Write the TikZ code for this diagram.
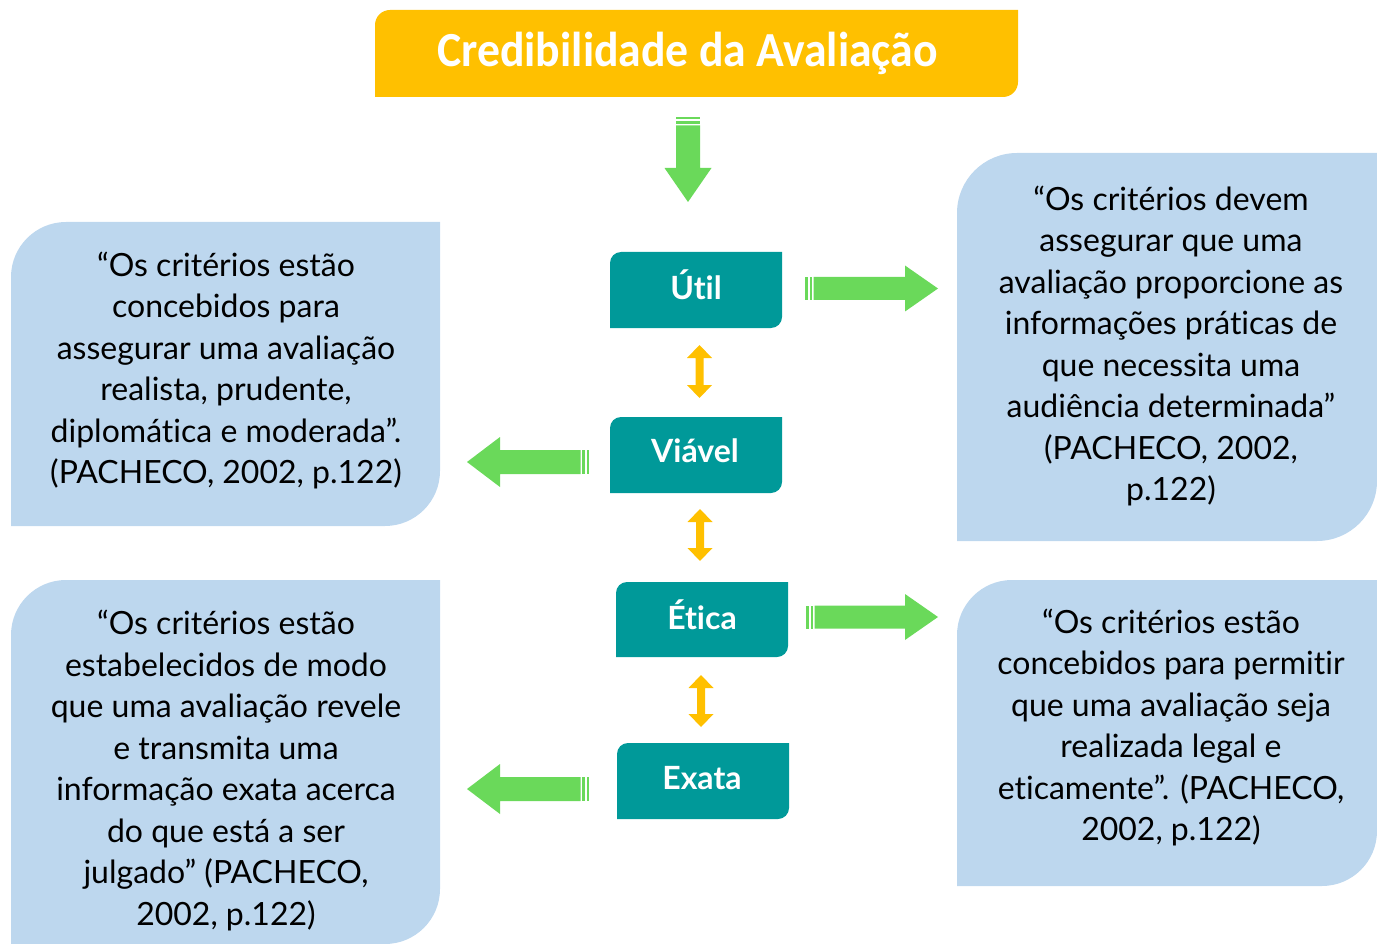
\documentclass[tikz,border=0pt]{standalone}
\usepackage{graphicx}
\usepackage{fontspec}
\setmainfont{Lato}[Ligatures=NoCommon]
\newfontfamily\titlefont{Carlito}
\definecolor{gold}{RGB}{255,192,0}
\definecolor{leaf}{RGB}{106,217,90}
\definecolor{tealbox}{RGB}{0,153,153}
\definecolor{sky}{RGB}{189,215,238}
% box with rounded top-left and bottom-right corners: x1 y1 x2 y2 r colour
\newcommand\diagbox[6]{%
  \fill[#6] (#1,#4) -- (#1,{#2+#5}) .. controls (#1,{#2+0.4477*#5}) and ({#1+0.4477*#5},#2) .. ({#1+#5},#2)
   -- (#3,#2) -- (#3,{#4-#5}) .. controls (#3,{#4-0.4477*#5}) and ({#3-0.4477*#5},#4) .. ({#3-#5},#4) -- cycle;}
% striped arrow pointing right: x0 (tail) xtip yc
\newcommand\arrowright[3]{%
  \fill[leaf] (#1,{#3-11.5}) rectangle ({#1+2.5},{#3+11.5});
  \fill[leaf] ({#1+4.5},{#3-11.5}) rectangle ({#1+7},{#3+11.5});
  \fill[leaf] ({#1+8.5},{#3-11.5}) -- ({#2-33},{#3-11.5}) -- ({#2-33},{#3-23}) -- (#2,#3)
    -- ({#2-33},{#3+23}) -- ({#2-33},{#3+11.5}) -- ({#1+8.5},{#3+11.5}) -- cycle;}
% striped arrow pointing left: x0 (tail) xtip yc
\newcommand\arrowleft[3]{%
  \fill[leaf] (#1,{#3-12}) rectangle ({#1-2.5},{#3+12});
  \fill[leaf] ({#1-4.5},{#3-12}) rectangle ({#1-7},{#3+12});
  \fill[leaf] ({#1-8.5},{#3-12}) -- ({#2+33},{#3-12}) -- ({#2+33},{#3-25}) -- (#2,#3)
    -- ({#2+33},{#3+25}) -- ({#2+33},{#3+12}) -- ({#1-8.5},{#3+12}) -- cycle;}
% orange double arrow: x ytop ybottom
\newcommand\updown[3]{%
  \fill[gold] (#1,#2) -- ({#1+12.5},{#2+13}) -- ({#1+4},{#2+13}) -- ({#1+4},{#3-13}) -- ({#1+12.5},{#3-13})
    -- (#1,#3) -- ({#1-12.5},{#3-13}) -- ({#1-4},{#3-13}) -- ({#1-4},{#2+13}) -- ({#1-12.5},{#2+13}) -- cycle;}
\tikzset{
  quote/.style={align=center, inner sep=0pt, text=black, font=\fontsize{32}{41.5}\selectfont},
  label/.style={inner sep=0pt, text=white, font=\fontsize{32}{38}\selectfont\bfseries},
  titletext/.style={inner sep=0pt, text=white, font=\titlefont\fontsize{49}{58}\selectfont\bfseries}
}
\begin{document}
\begin{tikzpicture}[x=1pt,y=-1pt]
\useasboundingbox (0,0) rectangle (1377,944);
% title
\diagbox{375}{10}{1018}{97}{15}{gold}
\node[titletext] (title) at (687.5,53) {\scalebox{0.933}[1]{Credibilidade da Avaliação}};
% down arrow
\fill[leaf] (676,117) rectangle (700,119.5);
\fill[leaf] (676,121.5) rectangle (700,124);
\fill[leaf] (676,125.5) -- (700,125.5) -- (700,168) -- (711.5,168) -- (688,202) -- (664.5,168) -- (676,168) -- cycle;
% teal boxes
\diagbox{610}{252}{782}{328}{11}{tealbox}
\diagbox{610}{417}{782}{493}{11}{tealbox}
\diagbox{616}{582}{788}{657}{11}{tealbox}
\diagbox{617}{743}{789}{819}{11}{tealbox}
\node[label] (util) at (696,285) {Útil};
\node[label] (viavel) at (695,451) {Viável};
\node[label] (etica) at (702,615) {Ética};
\node[label] (exata) at (702,778) {Exata};
% double arrows
\updown{699.5}{345}{398}
\updown{700}{509}{561}
\updown{701}{675}{727}
% green arrows
\arrowright{805}{938}{288.5}
\arrowright{806}{938}{617}
\arrowleft{589}{467}{462}
\arrowleft{589}{467}{789}
% blue boxes
\diagbox{11}{222}{440}{526}{55}{sky}
\diagbox{957}{153}{1377}{541}{60}{sky}
\diagbox{11}{580}{440}{944}{55}{sky}
\diagbox{957}{580}{1377}{886}{55}{sky}
\node[quote] (q1) at (226,370.5) {“Os critérios estão\\concebidos para\\assegurar uma avaliação\\realista, prudente,\\diplomática e moderada”.\\(PACHECO, 2002, p.122)};
\node[quote] (q2) at (1171,346) {“Os critérios devem\\assegurar que uma\\avaliação proporcione as\\informações práticas de\\que necessita uma\\audiência determinada”\\(PACHECO, 2002,\\p.122)};
\node[quote] (q3) at (226,770.5) {“Os critérios estão\\estabelecidos de modo\\que uma avaliação revele\\e transmita uma\\informação exata acerca\\do que está a ser\\julgado” (PACHECO,\\2002, p.122)};
\node[quote] (q4) at (1171,727.5) {“Os critérios estão\\concebidos para permitir\\que uma avaliação seja\\realizada legal e\\eticamente”. (PACHECO,\\2002, p.122)};
\end{tikzpicture}
\end{document}
